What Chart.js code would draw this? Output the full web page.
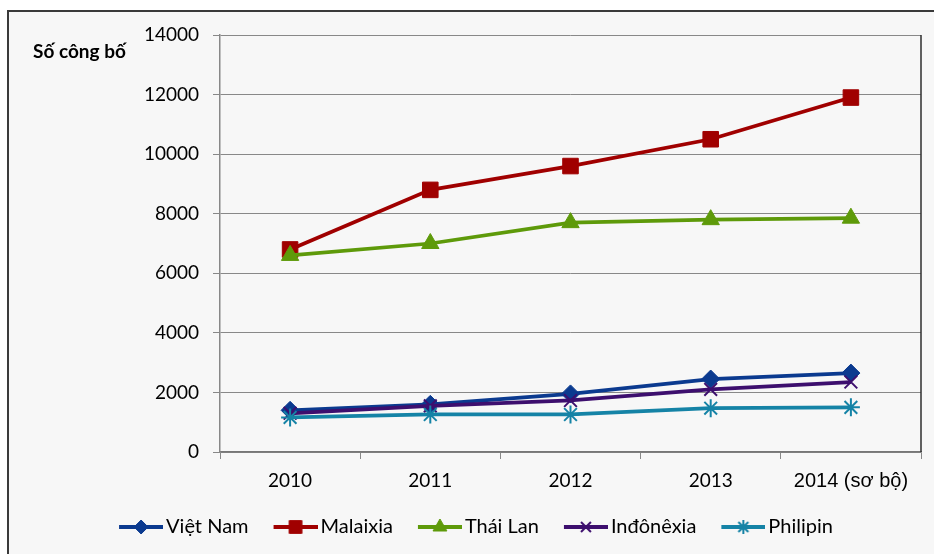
<!DOCTYPE html>
<html>
<head>
<meta charset="utf-8">
<script src="https://cdn.jsdelivr.net/npm/chart.js@4.4.1/dist/chart.umd.min.js"></script>
<style>
  html, body { margin: 0; padding: 0; background: #ffffff; }
  #frame {
    position: absolute; left: 7px; top: 10px; width: 940px; height: 560px;
    border-left: 2px solid #3a3a3a; border-top: 2px solid #3a3a3a;
    background: #f7f7f7;
  }
  #wrap { position: absolute; left: 0; top: 0; width: 934px; height: 554px; }
</style>
</head>
<body>
<div id="frame"></div>
<div id="wrap"><canvas id="chart" width="934" height="554"></canvas></div>
<script>
// Số công bố quốc tế theo năm
const years = ['2010', '2011', '2012', '2013', '2014 (sơ bộ)'];
const vietNam   = [1400, 1600, 1950, 2450, 2650];
const malaixia  = [6800, 8800, 9600, 10500, 11900];
const thaiLan   = [6600, 7000, 7700, 7800, 7850];
const indonexia = [1300, 1550, 1730, 2100, 2350];
const philipin  = [1160, 1260, 1260, 1470, 1500];

const yMin = 0, yMax = 14000, yStep = 2000;
const yTitle = 'Số công bố';

const series = [
  { label: 'Việt Nam',  data: vietNam,   color: '#0b3a8f', style: 'rectRot',  r: 9,  lr: 7, bw: 1 },
  { label: 'Malaixia',  data: malaixia,  color: '#a00000', style: 'rect',     r: 11, lr: 9, bw: 1 },
  { label: 'Thái Lan',  data: thaiLan,   color: '#5e9a0a', style: 'triangle', r: 10, lr: 8, bw: 1 },
  { label: 'Inđônêxia', data: indonexia, color: '#3d0f6e', style: 'crossRot', r: 9,  lr: 7, bw: 2 },
  { label: 'Philipin',  data: philipin,  color: '#1583a6', style: 'star',     r: 9,  lr: 7, bw: 2 }
];

// Legend icon: transparent lead-in, then a short line with the marker in its middle
const ICON_W = 66, ICON_H = 20, LINE_W = 44;
function legendIcon(s) {
  const c = document.createElement('canvas');
  c.width = ICON_W; c.height = ICON_H;
  const g = c.getContext('2d');
  const x0 = ICON_W - LINE_W, cy = ICON_H / 2;
  g.strokeStyle = s.color; g.lineWidth = 4;
  g.beginPath(); g.moveTo(x0, cy); g.lineTo(ICON_W, cy); g.stroke();
  g.fillStyle = s.color; g.strokeStyle = s.color; g.lineWidth = s.bw;
  Chart.helpers.drawPoint(g, { pointStyle: s.style, radius: s.lr, borderWidth: s.bw, rotation: 0 }, x0 + LINE_W / 2, cy);
  return c;
}

const titlePlugin = {
  id: 'axisTitleAndFrame',
  beforeDatasetsDraw(chart) {
    const { ctx, chartArea } = chart;
    ctx.save();
    ctx.strokeStyle = '#2e2e2e';
    ctx.lineWidth = 1.5;
    ctx.beginPath();
    ctx.moveTo(chartArea.right, chartArea.top);
    ctx.lineTo(chartArea.right, chartArea.bottom);
    ctx.stroke();
    ctx.restore();
  },
  afterDraw(chart) {
    const { ctx, chartArea } = chart;
    ctx.save();
    ctx.font = 'bold 19px Lato';
    ctx.fillStyle = '#000';
    ctx.textAlign = 'left';
    ctx.textBaseline = 'middle';
    ctx.fillText(yTitle, chartArea.left - 187, chartArea.top + 17);
    ctx.restore();
  }
};

new Chart(document.getElementById('chart'), {
  type: 'line',
  data: {
    labels: years,
    datasets: series.map((s, i) => ({
      label: s.label,
      data: s.data,
      borderColor: s.color,
      backgroundColor: s.color,
      borderWidth: 3.75,
      pointStyle: s.style,
      pointRadius: s.r,
      pointBorderWidth: s.bw,
      pointBorderColor: s.color,
      pointBackgroundColor: s.color,
      tension: 0,
      clip: false,
      order: series.length - i
    }))
  },
  options: {
    responsive: false,
    animation: false,
    devicePixelRatio: 1,
    layout: { padding: { left: 16, right: 13, top: 35, bottom: 7 } },
    plugins: {
      tooltip: { enabled: false },
      legend: {
        position: 'bottom',
        labels: {
          usePointStyle: true,
          pointStyleWidth: 52,
          padding: 10,
          color: '#000',
          font: { family: 'Lato', size: 20 },
          generateLabels: () => series.map((s, i) => ({
            text: s.label,
            pointStyle: legendIcon(s),
            fillStyle: s.color,
            strokeStyle: s.color,
            lineWidth: 0,
            hidden: false,
            datasetIndex: i,
            fontColor: '#000'
          }))
        }
      }
    },
    scales: {
      x: {
        offset: true,
        grid: { display: true, drawOnChartArea: false, offset: true, tickLength: 7, color: '#888', tickColor: '#888' },
        border: { color: '#777', width: 1.5 },
        ticks: {
          padding: 10,
          color: '#000',
          font: (c) => c.index === 4 ? { family: 'Liberation Sans', size: 20 } : { family: 'Lato', size: 19 }
        },
        afterFit(scale) { scale.height = 55; }
      },
      y: {
        min: yMin, max: yMax,
        grid: { color: '#888', tickLength: 7, tickColor: '#888', lineWidth: 1 },
        border: { color: '#888', width: 1.5 },
        ticks: {
          stepSize: yStep, padding: 14, color: '#000',
          font: { family: 'Lato', size: 19 },
          callback: (v) => String(v)
        },
        afterFit(scale) { scale.width = 204; }
      }
    }
  },
  plugins: [titlePlugin]
});
</script>
</body>
</html>
